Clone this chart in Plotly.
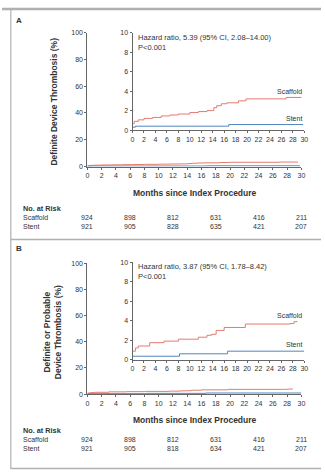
import plotly.graph_objects as go

W, H = 325, 473

# ---------------- data ----------------
months_A_scaffold = [0, 0.3, 1, 2, 3.5, 5, 6.5, 8, 10, 11.5, 13, 14.2, 14.7, 15.5, 16.5, 18.5, 19.8, 26.8, 29.5]
risk_A_scaffold_pct = [0.67, 0.9, 1.05, 1.2, 1.3, 1.45, 1.55, 1.65, 1.8, 1.9, 2.0, 2.3, 2.5, 2.7, 2.8, 3.0, 3.2, 3.35, 3.35]
months_A_stent = [0, 0.5, 16.8, 29.8]
risk_A_stent_pct = [0.3, 0.4, 0.57, 0.57]

months_B_scaffold = [0, 0.5, 1, 3, 5.5, 8, 11.5, 13, 13.8, 14.6, 16, 19.7, 27.5, 28.2, 28.8]
risk_B_scaffold_pct = [0.87, 1.2, 1.4, 1.74, 1.9, 2.1, 2.3, 2.5, 2.6, 3.0, 3.3, 3.65, 3.7, 3.9, 3.9]
months_B_stent = [0, 8.2, 16.6, 30]
risk_B_stent_pct = [0.35, 0.6, 0.87, 0.87]

risk_months = [0, 6, 12, 18, 24, 30]
atrisk_A_scaffold = ["924", "898", "812", "631", "416", "211"]
atrisk_A_stent = ["921", "905", "828", "635", "421", "207"]
atrisk_B_scaffold = ["924", "898", "812", "631", "416", "211"]
atrisk_B_stent = ["921", "905", "818", "634", "421", "207"]

main_yticks = [0, 20, 40, 60, 80, 100]
inset_yticks = [0, 2, 4, 6, 8, 10]
xticks = list(range(0, 31, 2))

hr_A = "Hazard ratio, 5.39 (95% CI, 2.08–14.00)<br>P&lt;0.001"
hr_B = "Hazard ratio, 3.87 (95% CI, 1.78–8.42)<br>P&lt;0.001"
ytitle_A = "<b>Definite Device Thrombosis (%)</b>"
ytitle_B = "<b>Definite or Probable<br>Device Thrombosis (%)</b>"
xtitle = "<b>Months since Index Procedure</b>"

C_SCAF = "#e37b70"
C_STENT = "#5286bd"
C_TXT = "#333333"
C_AX = "#666666"
FONT = "Liberation Sans, Arial, sans-serif"

TICK = 7
SMALL = 7
TITLE = 8.5


def px_x(p):
    return p / W


def px_y(p):
    return 1 - p / H


fig = go.Figure()

# axis layout: 1 = main A, 2 = inset A, 3 = main B, 4 = inset B
panels = {
    1: dict(x=(87, 305), y=(29, 165), main=True),
    2: dict(x=(133, 308), y=(29, 128), main=False),
    3: dict(x=(87, 305), y=(263, 396), main=True),
    4: dict(x=(133, 308), y=(262, 361), main=False),
}

series = {
    1: [(months_A_scaffold, risk_A_scaffold_pct, C_SCAF), (months_A_stent, risk_A_stent_pct, C_STENT)],
    2: [(months_A_scaffold, risk_A_scaffold_pct, C_SCAF), (months_A_stent, risk_A_stent_pct, C_STENT)],
    3: [(months_B_scaffold, risk_B_scaffold_pct, C_SCAF), (months_B_stent, risk_B_stent_pct, C_STENT)],
    4: [(months_B_scaffold, risk_B_scaffold_pct, C_SCAF), (months_B_stent, risk_B_stent_pct, C_STENT)],
}

layout_axes = {}
for k, p in panels.items():
    sfx = "" if k == 1 else str(k)
    for xs, ys, col in series[k]:
        fig.add_trace(go.Scatter(x=xs, y=ys, mode="lines", line=dict(color=col, width=1, shape="hv"),
                                 xaxis="x" + sfx, yaxis="y" + sfx, showlegend=False, hoverinfo="skip"))
    common = dict(showgrid=False, zeroline=False, showline=True, linecolor=C_AX, linewidth=1,
                  ticks="outside", ticklen=2, tickwidth=1, tickcolor=C_AX,
                  tickfont=dict(size=TICK, color=C_TXT, family=FONT))
    layout_axes["xaxis" + sfx] = dict(common, domain=[px_x(p["x"][0]), px_x(p["x"][1])], range=[0, 30],
                                      tickvals=xticks, anchor="y" + sfx)
    if p["main"]:
        layout_axes["yaxis" + sfx] = dict(common, domain=[px_y(p["y"][1]), px_y(p["y"][0])], range=[0, 100],
                                          tickvals=main_yticks, anchor="x" + sfx)
    else:
        layout_axes["yaxis" + sfx] = dict(common, domain=[px_y(p["y"][1]), px_y(p["y"][0])], range=[0, 10],
                                          tickvals=inset_yticks, anchor="x" + sfx)

annotations = []


def ann(text, x, y, xref="paper", yref="paper", size=SMALL, xanchor="left", yanchor="middle", **kw):
    annotations.append(dict(text=text, x=x, y=y, xref=xref, yref=yref, showarrow=False,
                            xanchor=xanchor, yanchor=yanchor,
                            font=dict(size=size, color=C_TXT, family=FONT), **kw))


# Panel labels
ann("<b>A</b>", px_x(12), px_y(17), size=8)
ann("<b>B</b>", px_x(12), px_y(248), size=8)

# y-axis titles
ann(ytitle_A, px_x(53), px_y(99), size=TITLE, xanchor="center", textangle=-90)
ann(ytitle_B, px_x(51), px_y(333), size=TITLE, xanchor="center", textangle=-90)

# x-axis titles
ann(xtitle, px_x(197), px_y(192), size=TITLE, xanchor="center")
ann(xtitle, px_x(197), px_y(422), size=TITLE, xanchor="center")

# hazard ratio text (anchored inside the axis range so it is drawn)
ann(hr_A, 0.6, 10, xref="x2", yref="y2", size=7.5, yanchor="top", align="left", yshift=2)
ann(hr_B, 0.6, 10, xref="x4", yref="y4", size=7.5, yanchor="top", align="left", yshift=2)

# series labels in insets
ann("Scaffold", 30, 4.0, xref="x2", yref="y2", xanchor="right")
ann("Stent", 30, 1.17, xref="x2", yref="y2", xanchor="right")
ann("Scaffold", 30, 4.55, xref="x4", yref="y4", xanchor="right")
ann("Stent", 30, 1.6, xref="x4", yref="y4", xanchor="right")

# No. at risk tables
for (top, scaf, stent) in [(208, atrisk_A_scaffold, atrisk_A_stent), (433, atrisk_B_scaffold, atrisk_B_stent)]:
    ann("<b>No. at Risk</b>", px_x(19), px_y(top), size=7.3)
    ann("Scaffold", px_x(19), px_y(top + 9))
    ann("Stent", px_x(19), px_y(top + 18))
    for m, a, b in zip(risk_months, scaf, stent):
        ann(a, m, px_y(top + 9), xref="x", xanchor="center")
        ann(b, m, px_y(top + 18), xref="x", xanchor="center")

# frame lines
shapes = [
    dict(type="line", xref="paper", yref="paper", x0=0, x1=1, y0=px_y(5), y1=px_y(5),
         line=dict(color="#b0b0b0", width=2.5)),
    dict(type="line", xref="paper", yref="paper", x0=px_x(9), x1=px_x(9), y0=px_y(5), y1=px_y(472),
         line=dict(color="#b0b0b0", width=1.2)),
    dict(type="line", xref="paper", yref="paper", x0=px_x(9), x1=1, y0=px_y(239), y1=px_y(239),
         line=dict(color="#b0b0b0", width=1.5)),
    dict(type="line", xref="paper", yref="paper", x0=px_x(9), x1=1, y0=px_y(471.5), y1=px_y(471.5),
         line=dict(color="#b0b0b0", width=1.5)),
]

fig.update_layout(
    width=W, height=H, autosize=False,
    margin=dict(l=0, r=0, t=0, b=0),
    paper_bgcolor="white", plot_bgcolor="rgba(0,0,0,0)",
    font=dict(family=FONT, color=C_TXT),
    annotations=annotations, shapes=shapes, showlegend=False,
    **layout_axes,
)

fig.write_html("out.html", config={"displayModeBar": False},
               post_script="document.body.style.margin='0';document.body.style.overflow='hidden';")
